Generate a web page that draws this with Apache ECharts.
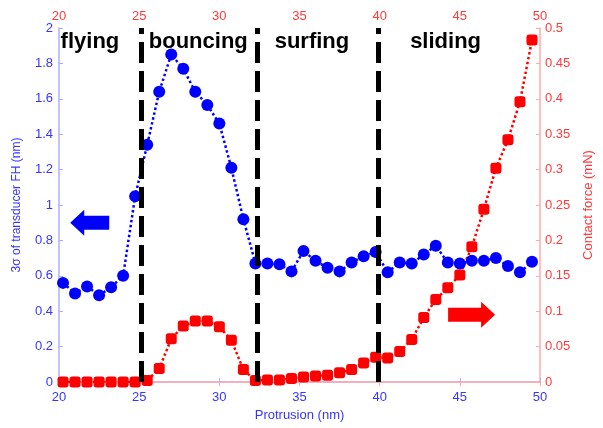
<!DOCTYPE html>
<html>
<head>
<meta charset="utf-8">
<script src="https://cdn.jsdelivr.net/npm/echarts@6/dist/echarts.min.js"></script>
<style>html,body{margin:0;padding:0;background:#fff;}#c{width:603px;height:428px;}</style>
</head>
<body>
<div id="c"></div>
<script>
// Protrusion (nm) for each sample
const protrusion = [20.25,21.0,21.75,22.5,23.25,24.0,24.75,25.5,26.25,27.0,27.75,28.5,29.25,30.0,30.75,31.5,32.25,33.0,33.75,34.5,35.25,36.0,36.75,37.5,38.25,39.0,39.75,40.5,41.25,42.0,42.75,43.5,44.25,45.0,45.75,46.5,47.25,48.0,48.75,49.5];
// 3-sigma of transducer FH (nm)
const sigmaFH = [0.56,0.50,0.54,0.49,0.535,0.60,1.05,1.34,1.64,1.85,1.77,1.64,1.565,1.46,1.21,0.92,0.67,0.67,0.665,0.625,0.74,0.685,0.645,0.625,0.675,0.71,0.735,0.62,0.675,0.67,0.72,0.77,0.675,0.67,0.685,0.685,0.70,0.655,0.62,0.68];
// Contact force (mN)
const contactForce = [0,0,0,0,0,0,0,0.002,0.019,0.061,0.079,0.086,0.086,0.078,0.059,0.0175,0.002,0.003,0.003,0.005,0.007,0.0085,0.0095,0.013,0.0175,0.027,0.035,0.034,0.043,0.060,0.091,0.1165,0.133,0.151,0.191,0.244,0.302,0.342,0.396,0.483];
// Regime boundaries (nm) and labels
const boundaries = [25.15, 32.35, 39.9];
const regimes = ['flying','bouncing','surfing','sliding'];
const xTicks = [20,25,30,35,40,45,50];

const blue = '#0000ff', red = '#ff0000';
const blueText = '#3535ff', redText = '#ff3a3a';
const blueLine = '#aab0ff', redLine = '#ffaaaa';
const font = '"Liberation Sans", Arial, Helvetica, sans-serif';

const chart = echarts.init(document.getElementById('c'), null, {renderer:'canvas'});
const xMin = xTicks[0], xMax = xTicks[xTicks.length-1], xInt = xTicks[1]-xTicks[0];

const option = {
  animation: false,
  backgroundColor: '#fff',
  grid: {left: 59, right: 57, top: 28, bottom: 46, containLabel: false},
  xAxis: [
    {type:'value', position:'bottom', min:xMin, max:xMax, interval:xInt,
     name:'Protrusion (nm)', nameLocation:'middle', nameGap:27,
     nameTextStyle:{color:blueText, fontSize:13, fontFamily:font},
     axisLine:{show:true, lineStyle:{color:blueLine, width:1.5}},
     axisTick:{show:true, inside:true, length:4, lineStyle:{color:blueLine}},
     axisLabel:{color:blueText, fontSize:13, fontFamily:font, margin:9},
     splitLine:{show:false}},
    {type:'value', position:'top', min:xMin, max:xMax, interval:xInt,
     axisLine:{show:true, lineStyle:{color:redLine, width:1.5}},
     axisTick:{show:true, inside:true, length:4, lineStyle:{color:redLine}},
     axisLabel:{color:redText, fontSize:13, fontFamily:font, margin:5},
     splitLine:{show:false}}
  ],
  yAxis: [
    {type:'value', position:'left', min:0, max:2, interval:0.2,
     name:'3\u03c3 of transducer FH (nm)', nameLocation:'middle', nameGap:36, nameRotate:90,
     nameTextStyle:{color:blueText, fontSize:12, fontFamily:font},
     axisLine:{show:true, lineStyle:{color:blueLine, width:1.5}},
     axisTick:{show:true, inside:true, length:4, lineStyle:{color:blueLine}},
     axisLabel:{color:blueText, fontSize:13, fontFamily:font, margin:6},
     splitLine:{show:false}},
    {type:'value', position:'right', min:0, max:0.5, interval:0.05,
     name:'Contact force (mN)', nameLocation:'middle', nameGap:42, nameRotate:90,
     nameTextStyle:{color:redText, fontSize:13, fontFamily:font},
     axisLine:{show:true, lineStyle:{color:redLine, width:1.5}},
     axisTick:{show:true, inside:true, length:4, lineStyle:{color:redLine}},
     axisLabel:{color:redText, fontSize:13, fontFamily:font, margin:5},
     splitLine:{show:false}}
  ],
  series: [
    {type:'line', xAxisIndex:0, yAxisIndex:1, z:2,
     data: protrusion.map((x,i)=>[x, contactForce[i]]),
     symbol:'roundRect', symbolSize:11,
     itemStyle:{color:red},
     lineStyle:{color:red, width:2.5, type:'dotted'}},
    {type:'line', xAxisIndex:0, yAxisIndex:0, z:3,
     data: protrusion.map((x,i)=>[x, sigmaFH[i]]),
     symbol:'circle', symbolSize:12,
     itemStyle:{color:blue},
     lineStyle:{color:blue, width:2.5, type:'dotted'}},
    {type:'line', xAxisIndex:0, yAxisIndex:0, z:10, data:[],
     markLine:{silent:true, symbol:'none', animation:false,
       label:{show:false},
       lineStyle:{color:'#000', width:5, type:[21,8]},
       data: boundaries.map(b=>({xAxis:b}))}}
  ]
};
chart.setOption(option);

// regime labels placed between boundaries using the axis scale
const edges = [xMin].concat(boundaries);
const offsets = [0.1, 0.45, 1.1, 2.0];
const topY = chart.convertToPixel({yAxisIndex:0}, 2);
const gfx = regimes.map((t,i)=>{
  const px = chart.convertToPixel({xAxisIndex:0}, edges[i]+offsets[i]);
  return {type:'text', left:px, top:topY+3, z:20,
    style:{text:t, fill:'#000', font:'bold 22px '+font}};
});
// arrows
const ax = chart.convertToPixel({xAxisIndex:0}, 20.7);
const ay = chart.convertToPixel({yAxisIndex:0}, 0.9);
gfx.push({type:'polygon', z:20, shape:{points:[[ax,ay],[ax+14,ay-13],[ax+14,ay-7],[ax+39,ay-7],[ax+39,ay+7],[ax+14,ay+7],[ax+14,ay+13]]}, style:{fill:blue}});
const bx = chart.convertToPixel({xAxisIndex:0}, 47.2);
const by = chart.convertToPixel({yAxisIndex:1}, 0.095);
gfx.push({type:'polygon', z:20, shape:{points:[[bx,by],[bx-14,by-13],[bx-14,by-7],[bx-47,by-7],[bx-47,by+7],[bx-14,by+7],[bx-14,by+13]]}, style:{fill:red}});
chart.setOption({graphic: gfx});
</script>
</body>
</html>
